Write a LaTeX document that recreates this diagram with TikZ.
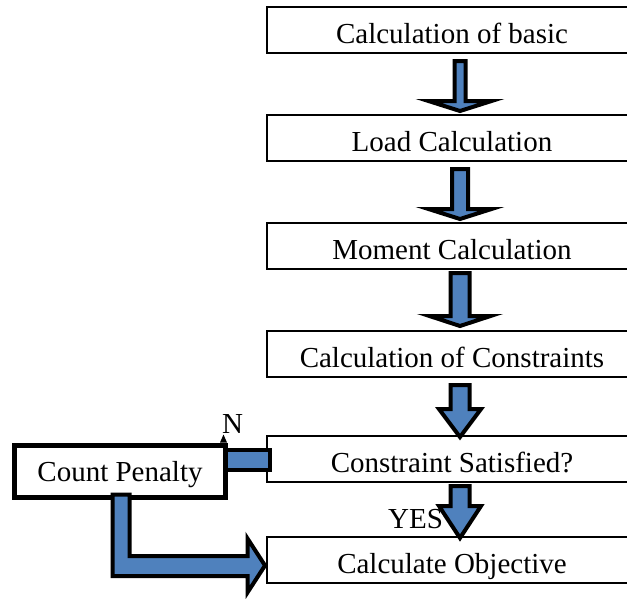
\documentclass[tikz,border=0pt]{standalone}
\usepackage{fontspec}
\setmainfont{Liberation Serif}
\usetikzlibrary{positioning,calc}
\definecolor{barblue}{RGB}{79,129,189}

\tikzset{
  stepbox/.style={draw,line width=1.6pt,fill=white,minimum width=370pt,minimum height=46pt,
    inner sep=0pt,outer sep=0pt,text height=26pt,text depth=0pt},
  penaltybox/.style={draw,line width=5pt,fill=white,minimum width=211pt,minimum height=52pt,
    inner sep=0pt,outer sep=0pt,text height=21pt,text depth=0pt},
  blockarrow/.style={draw,fill=barblue,line width=4pt,line join=miter},
  tag/.style={inner sep=0pt,anchor=base west}
}

% block arrow pointing down: from, to, shaft, head, head length, top gap, tip gap
\newcommand{\blockdown}[7]{%
  \coordinate (top) at ($(#1.south)+(8,#6)$);
  \coordinate (a) at ($(#1.south)+(8,0)$);
  \coordinate (b) at ($(#2.north)+(0,#7)$);
  \coordinate (tip) at (a |- b);
  \draw[blockarrow] ($(top)+(-#3,0)$) -- ($(top)+(#3,0)$) -- ($(tip)+(#3,-#5)$)
    -- ($(tip)+(#4,-#5)$) -- (tip) -- ($(tip)+(-#4,-#5)$) -- ($(tip)+(-#3,-#5)$) -- cycle;
}

\begin{document}
\begin{tikzpicture}
  [x=1pt,y=-1pt,every node/.style={font=\fontsize{29}{34}\selectfont}]
  \useasboundingbox (0,0) rectangle (627,598);
  \clip (0,0) rectangle (627,598);

  \node[stepbox] (basic) at (452,30) {Calculation of basic};
  \node[stepbox,below=62pt of basic] (load) {Load Calculation};
  \node[stepbox,below=62pt of load] (moment) {Moment Calculation};
  \node[stepbox,below=62pt of moment] (constr) {Calculation of Constraints};
  \node[stepbox,below=59pt of constr] (check) {Constraint Satisfied?};
  \node[stepbox,below=55pt of check] (result) {Calculate Objective};

  % N branch
  \draw[blockarrow] ($(check.west)+(2.5,-9)$) rectangle ($(check.west)+(-51.5,11)$);
  \node[penaltybox,left=41.5pt of check,yshift=-12pt] (penalty) {Count Penalty};
  \draw[blockarrow] ($(penalty.south)+(-7.5,-2.5)$) coordinate (ls) -- ++(17,0)
    |- ($(result.west)+(-19.5,-4)$) -- ++(0,-17.5) -- ($(result.west)+(-2,5.5)$)
    -- ++(-17.5,27) -- ++(0,-16.5) -| (ls) -- cycle;
  \fill ($(penalty.north east)+(-5.5,-2.5)$) -- ++(3.5,-8) -- ++(3.5,8) -- cycle;

  \node[tag] (nolabel) at (222,433) {N};
  \node[tag] (yeslabel) at (388,528) {YES};

  \blockdown{basic}{load}{5.5}{31.5}{10}{8}{-4}
  \blockdown{load}{moment}{8}{31.5}{10}{8}{-4}
  \blockdown{moment}{constr}{9.5}{30.5}{10}{4}{-5}
  \blockdown{constr}{check}{9.5}{21}{28}{8}{1}
  \blockdown{check}{result}{9.5}{21}{32}{4}{1}
\end{tikzpicture}
\end{document}
